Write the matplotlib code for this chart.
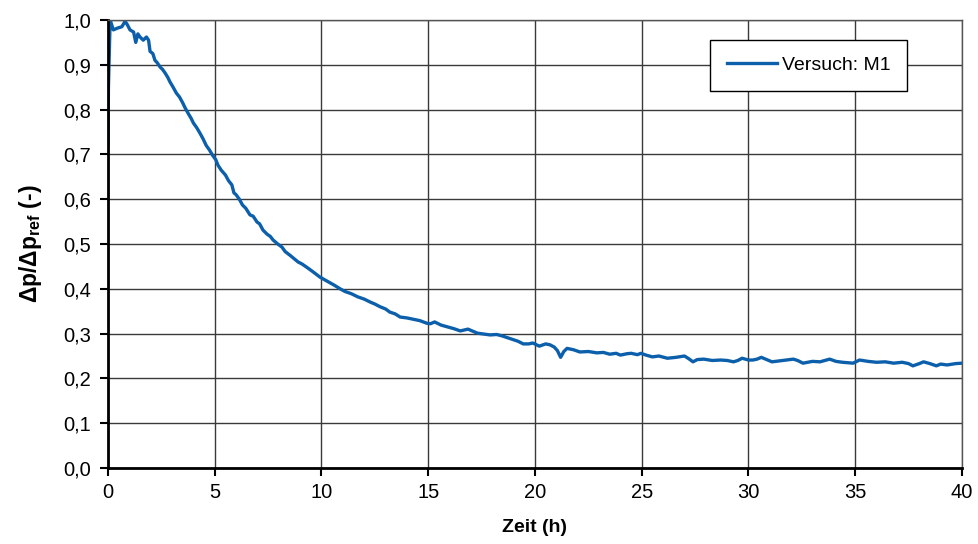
import matplotlib
matplotlib.use('Agg')
import matplotlib.pyplot as plt
from matplotlib.ticker import FuncFormatter, MultipleLocator

plt.rcParams['font.family'] = ['Liberation Sans', 'DejaVu Sans']
plt.rcParams['mathtext.fontset'] = 'custom'
plt.rcParams['mathtext.rm'] = 'Liberation Sans'
plt.rcParams['mathtext.bf'] = 'Liberation Sans:bold'

zeit = [0, 0.02, 0.1, 0.25, 0.45, 0.65, 0.8, 0.9, 1.03, 1.2,
        1.3, 1.4, 1.5, 1.65, 1.8, 1.9, 1.97, 2.1, 2.2, 2.3,
        2.44, 2.55, 2.67, 2.8, 2.9, 3.05, 3.2, 3.35, 3.5, 3.6,
        3.75, 3.9, 4.0, 4.15, 4.3, 4.45, 4.6, 4.75, 4.9, 5.05,
        5.15, 5.3, 5.5, 5.65, 5.8, 5.9, 6.0, 6.15, 6.3, 6.45,
        6.65, 6.8, 6.98, 7.1, 7.26, 7.45, 7.6, 7.73, 7.95, 8.15,
        8.3, 8.52, 8.7, 8.9, 9.1, 9.37, 9.6, 9.93, 10.15, 10.4,
        10.6, 10.87, 11.1, 11.4, 11.7, 12.0, 12.3, 12.5, 12.74, 13.0,
        13.2, 13.45, 13.68, 14.0, 14.3, 14.6, 14.94, 15.1, 15.3, 15.6,
        15.9, 16.2, 16.5, 16.86, 17.1, 17.3, 17.6, 17.9, 18.2, 18.45,
        18.7, 19.0, 19.2, 19.45, 19.7, 19.9, 20.2, 20.5, 20.7, 20.9,
        21.05, 21.2, 21.35, 21.5, 21.8, 22.1, 22.5, 22.9, 23.2, 23.5,
        23.8, 24.0, 24.3, 24.5, 24.8, 24.96, 25.2, 25.5, 25.8, 26.2,
        26.6, 27.0, 27.2, 27.4, 27.6, 27.9, 28.3, 28.7, 29.0, 29.3,
        29.5, 29.7, 30.0, 30.2, 30.4, 30.6, 31.1, 31.6, 32.1, 32.3,
        32.55, 33.0, 33.35, 33.8, 34.1, 34.4, 34.9, 35.2, 35.6, 36.0,
        36.4, 36.8, 37.2, 37.5, 37.7, 38.0, 38.2, 38.5, 38.8, 39.0,
        39.3, 39.7, 40.0]
dp = [0.72, 0.85, 1.0, 0.978, 0.982, 0.985, 0.997, 0.99, 0.978, 0.973,
      0.95, 0.969, 0.962, 0.955, 0.962, 0.955, 0.93, 0.925, 0.91, 0.905,
      0.895, 0.89, 0.882, 0.872, 0.862, 0.85, 0.837, 0.828, 0.815, 0.805,
      0.792, 0.78, 0.77, 0.76, 0.748, 0.735, 0.72, 0.71, 0.698, 0.688,
      0.676, 0.665, 0.654, 0.641, 0.632, 0.614, 0.61, 0.6, 0.587, 0.58,
      0.565, 0.562, 0.549, 0.545, 0.531, 0.522, 0.517, 0.509, 0.5, 0.493,
      0.483, 0.475, 0.468, 0.46, 0.455, 0.446, 0.438, 0.426, 0.42, 0.413,
      0.408, 0.4, 0.394, 0.389, 0.382, 0.377, 0.37, 0.366, 0.36, 0.355,
      0.348, 0.344, 0.337, 0.335, 0.332, 0.329, 0.323, 0.322, 0.326, 0.319,
      0.315, 0.311, 0.306, 0.31, 0.305, 0.301, 0.299, 0.297, 0.298, 0.295,
      0.291, 0.286, 0.283, 0.277, 0.277, 0.279, 0.272, 0.277, 0.275, 0.27,
      0.262, 0.247, 0.26, 0.267, 0.264, 0.259, 0.26, 0.257, 0.258, 0.254,
      0.256, 0.252, 0.255, 0.256, 0.253, 0.256, 0.252, 0.248, 0.25, 0.245,
      0.247, 0.25, 0.244, 0.237, 0.242, 0.243, 0.24, 0.241, 0.24, 0.237,
      0.24, 0.245, 0.241, 0.241, 0.243, 0.247, 0.237, 0.24, 0.243, 0.24,
      0.234, 0.238, 0.237, 0.243, 0.238, 0.236, 0.234, 0.241, 0.238, 0.236,
      0.237, 0.234, 0.236, 0.233, 0.228, 0.233, 0.237, 0.233, 0.228, 0.232,
      0.23, 0.233, 0.234]
label = 'Versuch: M1'

fig = plt.figure(figsize=(9.79, 5.44), dpi=100)
ax = fig.add_axes([108/979, 1-468/544, (962-108)/979, (468-20)/544])

ax.plot(zeit, dp, color='#0b5fab', lw=2.4, label=label)

ax.set_xlim(0, 40)
ax.set_ylim(0, 1.0)
ax.xaxis.set_major_locator(MultipleLocator(5))
ax.yaxis.set_major_locator(MultipleLocator(0.1))
ax.yaxis.set_major_formatter(FuncFormatter(lambda v, _: f'{v:.1f}'.replace('.', ',')))
ax.xaxis.set_major_formatter(FuncFormatter(lambda v, _: f'{v:.0f}'))
ax.grid(True, color='#3a3a3a', lw=1)
ax.set_axisbelow(True)

for s in ['left', 'bottom']:
    ax.spines[s].set_linewidth(2)
    ax.spines[s].set_color('black')
for s in ['top', 'right']:
    ax.spines[s].set_linewidth(1)
    ax.spines[s].set_color('#555555')

ax.tick_params(direction='out', length=6, width=1.5, labelsize=14.5, colors='black')
ax.tick_params(axis='y', pad=6)
ax.tick_params(axis='x', pad=5)

ax.set_xlabel('Zeit (h)', fontsize=14, fontweight='bold', labelpad=12)
ax.set_ylabel(r'$\mathbf{\Delta p/\Delta p_{ref}}$ (-)', fontsize=16.5, fontweight='bold', labelpad=14)

leg = ax.legend(loc='upper left', bbox_to_anchor=((710-108)/854, 1-(40-20)/448),
                fontsize=14, frameon=True, fancybox=False, borderpad=0.85,
                handlelength=2.6, handletextpad=0.25, borderaxespad=0)
leg.get_frame().set_edgecolor('black')
leg.get_frame().set_linewidth(1)
leg.get_frame().set_alpha(1)

fig.savefig('out.png', dpi=100)
